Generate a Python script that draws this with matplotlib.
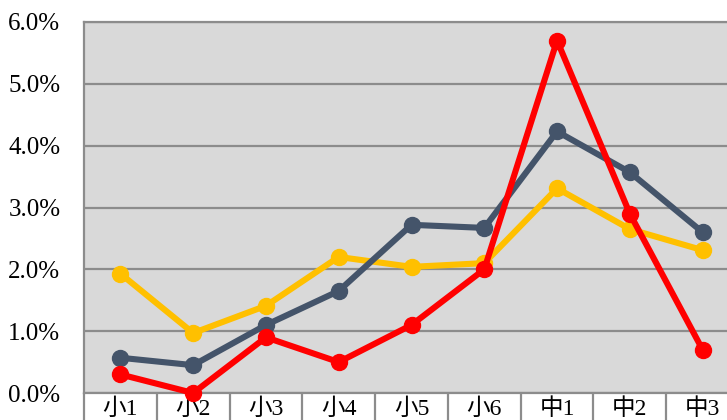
import matplotlib
matplotlib.use("Agg")
import matplotlib.pyplot as plt
import numpy as np
from matplotlib.ticker import FuncFormatter, FixedLocator

plt.rcParams['font.family'] = ['Liberation Serif', 'Noto Sans CJK JP']

categories = ["小1", "小2", "小3", "小4", "小5", "小6", "中1", "中2", "中3"]
series_yellow = [1.93, 0.97, 1.41, 2.20, 2.04, 2.10, 3.31, 2.65, 2.31]
series_gray = [0.57, 0.45, 1.10, 1.65, 2.72, 2.67, 4.23, 3.57, 2.60]
series_red = [0.30, 0.00, 0.90, 0.50, 1.10, 2.00, 5.70, 2.90, 0.70]
yticks = [0, 1, 2, 3, 4, 5, 6]

fig = plt.figure(figsize=(7.27, 4.20), dpi=100)
ax = fig.add_axes([84/727, 1-393/420, (739-84)/727, (393-22)/420])
ax.set_facecolor('#d9d9d9')

x = np.arange(len(categories))
lw = 4.4
ms = 11.5
ax.plot(x, series_yellow, color='#ffc000', lw=lw, marker='o', ms=ms, zorder=3, clip_on=False)
ax.plot(x, series_gray, color='#44546a', lw=lw, marker='o', ms=ms, zorder=4, clip_on=False)
ax.plot(x, series_red, color='#ff0000', lw=lw, marker='o', ms=ms, zorder=5, clip_on=False)

ax.set_xlim(-0.5, len(categories)-0.5)
ax.set_ylim(0, 6)
ax.set_yticks(yticks)
ax.yaxis.set_major_formatter(FuncFormatter(lambda v, p: f"{v:.1f}%"))
ax.grid(axis='y', color='#8c8c8c', lw=1.6, zorder=1)
ax.set_axisbelow(True)

ax.set_xticks(x)
ax.set_xticklabels(categories)
ax.xaxis.set_minor_locator(FixedLocator(np.arange(-0.5, len(categories), 1.0)))
ax.tick_params(axis='x', which='major', length=0, pad=4, labelsize=17)
ax.tick_params(axis='x', which='minor', length=30, width=1.6, color='#8c8c8c', direction='out')
ax.tick_params(axis='y', which='major', length=0, pad=17, labelsize=18)

for s in ['left', 'bottom', 'top']:
    ax.spines[s].set_color('#8c8c8c')
    ax.spines[s].set_linewidth(1.6)
ax.spines['right'].set_visible(False)

fig.savefig('out.png', dpi=100)
